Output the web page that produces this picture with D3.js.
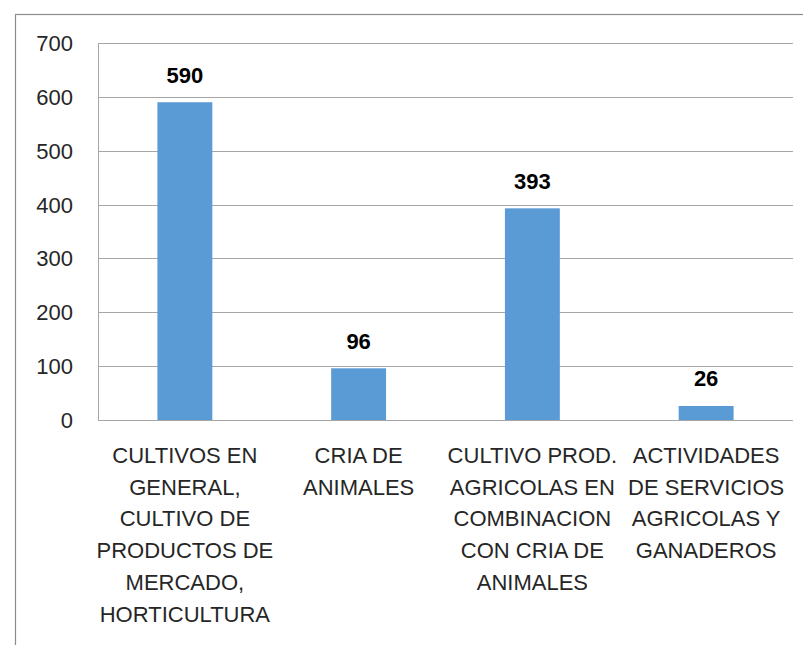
<!DOCTYPE html>
<html>
<head>
<meta charset="utf-8">
<script src="https://cdn.jsdelivr.net/npm/d3@7"></script>
<style>
  body { margin: 0; background: white; }
  svg text { font-family: "Liberation Sans", Arial, sans-serif; }
</style>
</head>
<body>
<div id="container"></div>
<script>
var width = 803,
    height = 645;

// data
var categories = ["cultivos", "cria", "combinacion", "servicios"];
var values = [590, 96, 393, 26];
var cat_labels = [
  ["CULTIVOS EN", "GENERAL,", "CULTIVO DE", "PRODUCTOS DE", "MERCADO,", "HORTICULTURA"],
  ["CRIA DE", "ANIMALES"],
  ["CULTIVO PROD.", "AGRICOLAS EN", "COMBINACION", "CON CRIA DE", "ANIMALES"],
  ["ACTIVIDADES", "DE SERVICIOS", "AGRICOLAS Y", "GANADEROS"]
];
var y_ticks = [0, 100, 200, 300, 400, 500, 600, 700];

var plot = {left: 98, right: 793, top: 43, bottom: 420};

var svg = d3.select("#container")
            .append("svg")
            .attr("width", width)
            .attr("height", height);

// outer frame
svg.append("rect")
   .attr("x", 15.5).attr("y", 14.5)
   .attr("width", 900).attr("height", 800)
   .attr("fill", "white")
   .attr("stroke", "#8c8c8c")
   .attr("stroke-width", 1.2);

var x = d3.scaleBand()
          .domain(categories)
          .range([plot.left, plot.right])
          .paddingInner(0.684)
          .paddingOuter(0.342);

var y = d3.scaleLinear()
          .domain([0, 700])
          .range([plot.bottom, plot.top]);

// gridlines
svg.append("g")
   .selectAll("line")
   .data(y_ticks)
   .enter().append("line")
   .attr("x1", plot.left).attr("x2", plot.right)
   .attr("y1", function(d){ return Math.round(y(d)) + 0.5; })
   .attr("y2", function(d){ return Math.round(y(d)) + 0.5; })
   .attr("stroke", "#a6a6a6")
   .attr("stroke-width", 1);

// left axis line
svg.append("line")
   .attr("x1", plot.left + 0.5).attr("x2", plot.left + 0.5)
   .attr("y1", Math.round(y(700))).attr("y2", Math.round(y(0)) + 1)
   .attr("stroke", "#a6a6a6");

// y tick labels
svg.append("g")
   .selectAll("text")
   .data(y_ticks)
   .enter().append("text")
   .attr("x", 73)
   .attr("y", function(d){ return y(d) + 8; })
   .attr("text-anchor", "end")
   .style("font-size", "22px")
   .attr("fill", "#262626")
   .text(function(d){ return d; });

// bars
svg.append("g")
   .selectAll("rect")
   .data(values)
   .enter().append("rect")
   .attr("x", function(d, i){ return x(categories[i]); })
   .attr("y", function(d){ return y(d); })
   .attr("width", x.bandwidth())
   .attr("height", function(d){ return y(0) - y(d); })
   .attr("fill", "#5b9bd5");

// value labels
svg.append("g")
   .selectAll("text")
   .data(values)
   .enter().append("text")
   .attr("x", function(d, i){ return x(categories[i]) + x.bandwidth() / 2; })
   .attr("y", function(d){ return y(d) - 19.5; })
   .attr("text-anchor", "middle")
   .style("font-size", "22px")
   .style("font-weight", "bold")
   .attr("fill", "#000")
   .text(function(d){ return d; });

// category labels
var cl = svg.append("g")
            .selectAll("text")
            .data(cat_labels)
            .enter().append("text")
            .attr("text-anchor", "middle")
            .style("font-size", "22px")
            .attr("fill", "#262626");

cl.each(function(lines, i){
  var t = d3.select(this);
  var cx = x(categories[i]) + x.bandwidth() / 2;
  lines.forEach(function(line, j){
    t.append("tspan")
     .attr("x", cx)
     .attr("y", 463 + j * 31.7)
     .text(line);
  });
});
</script>
</body>
</html>
